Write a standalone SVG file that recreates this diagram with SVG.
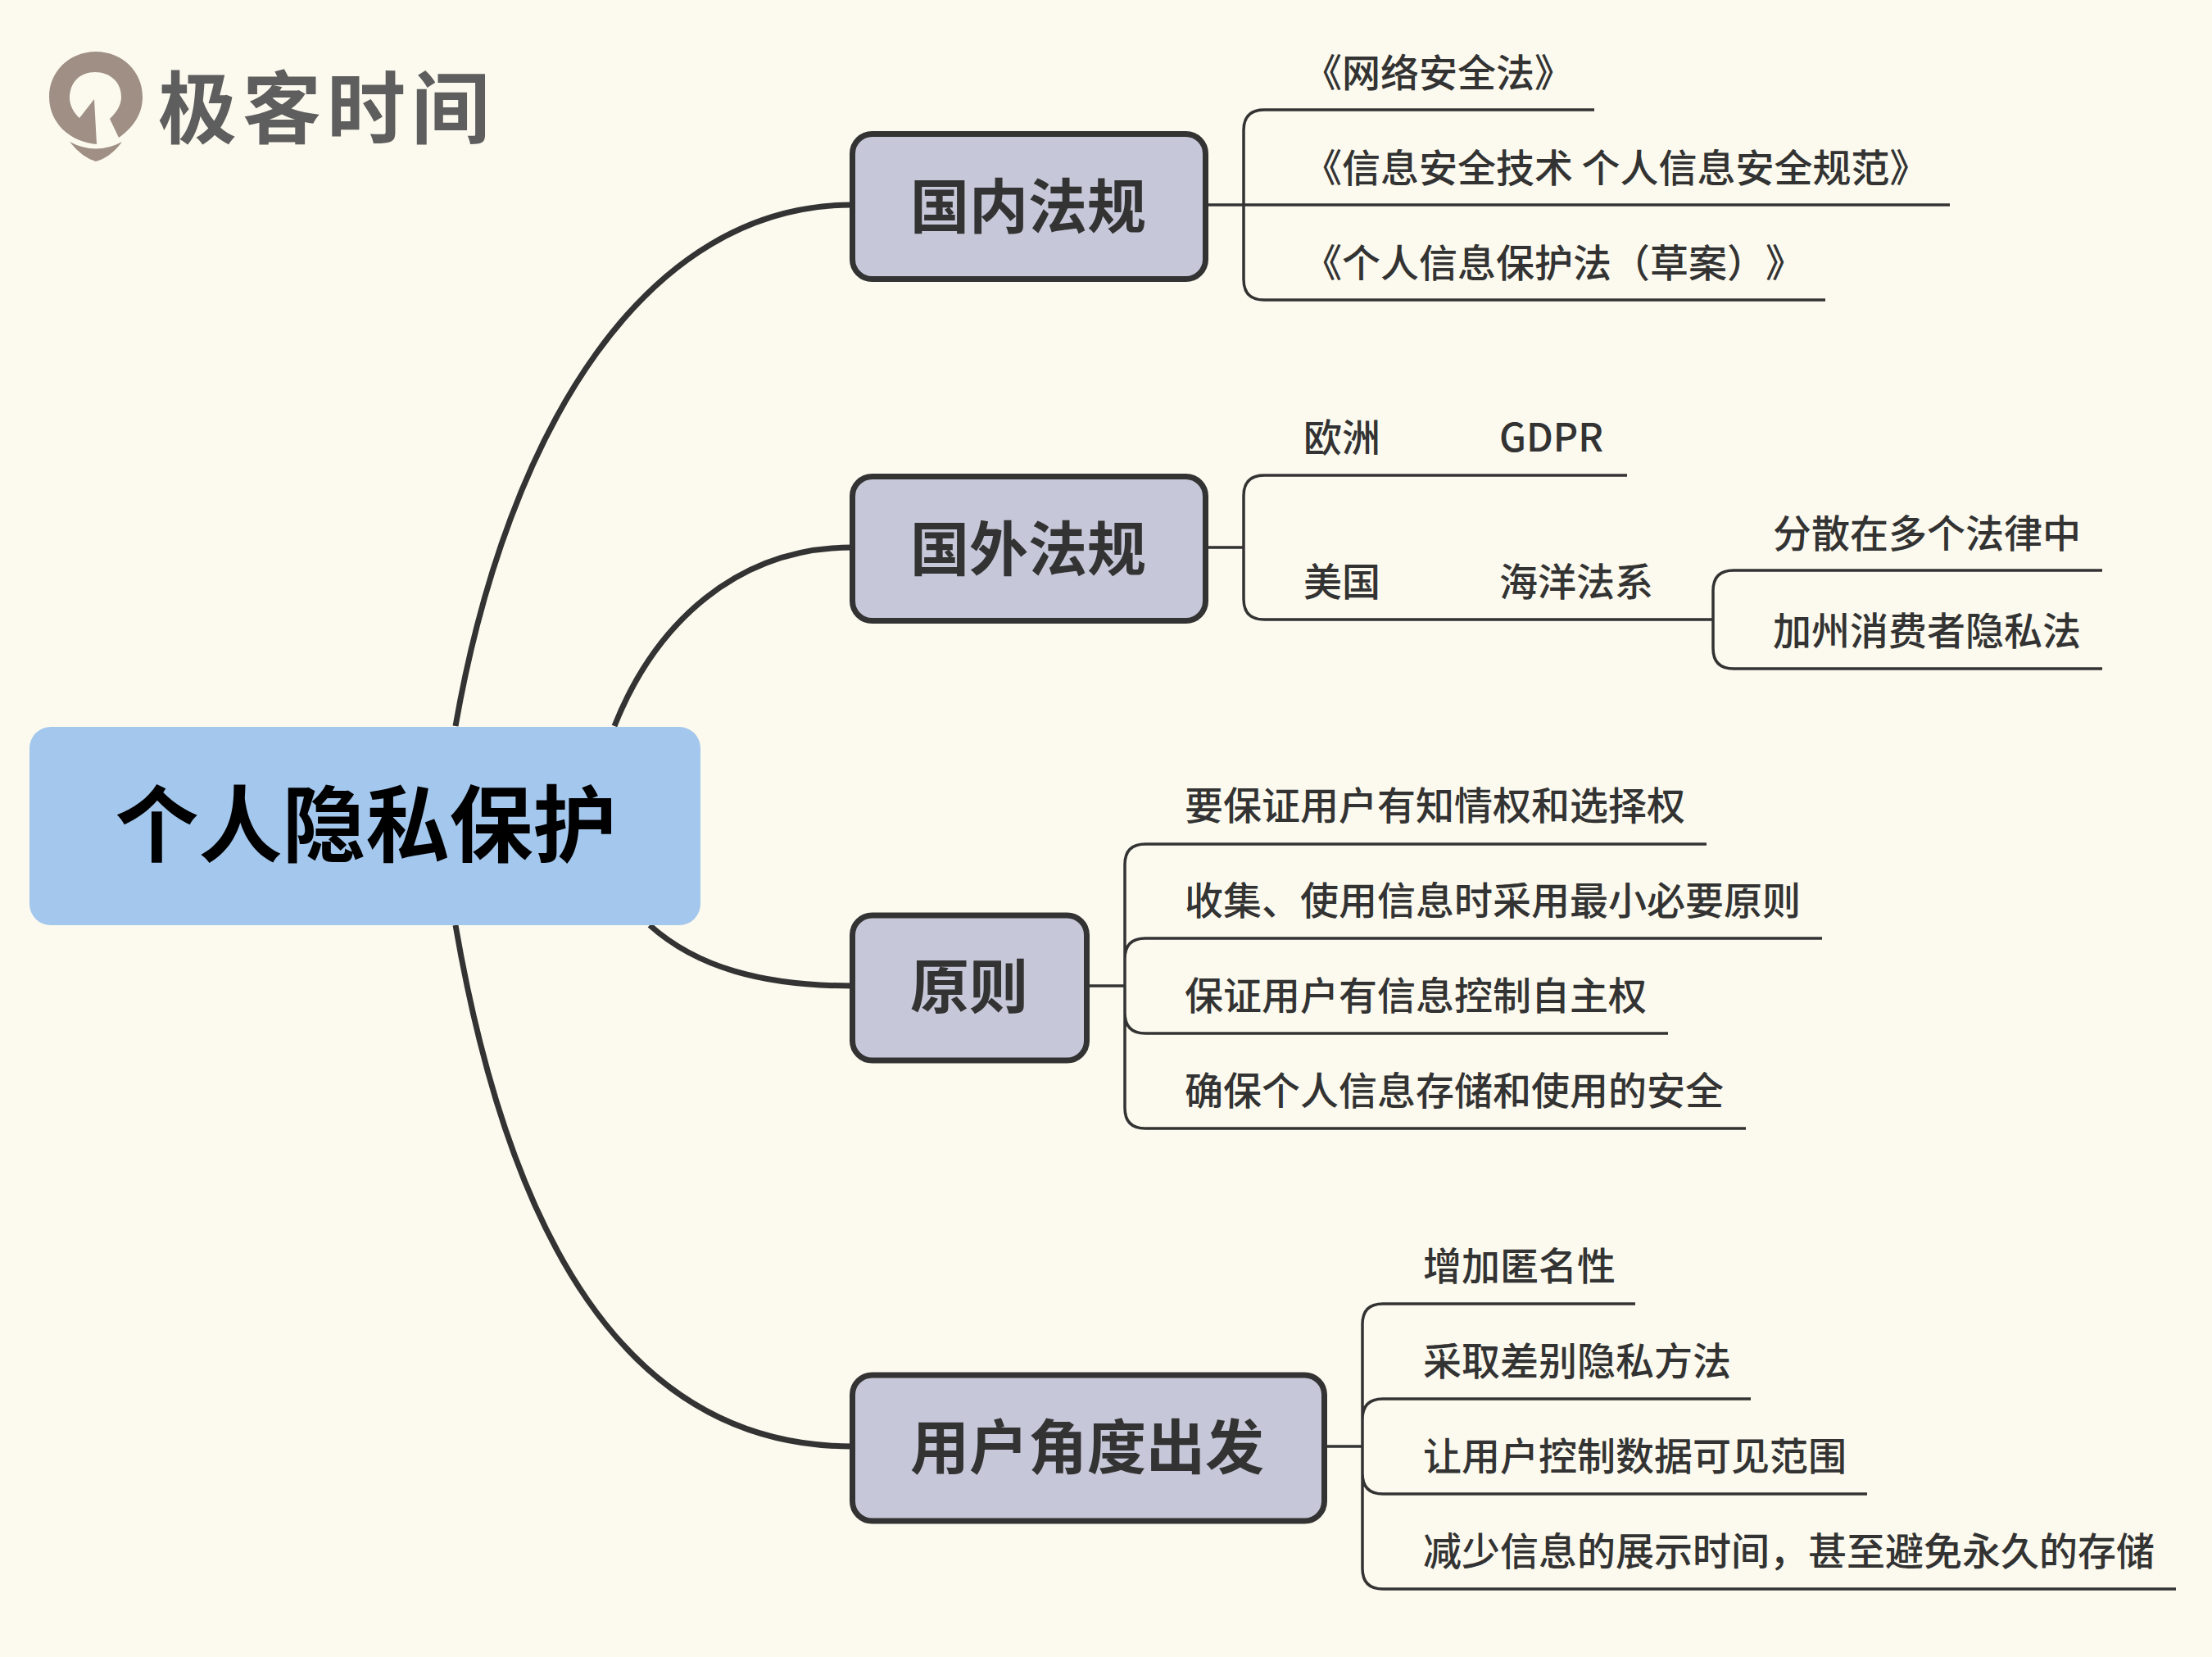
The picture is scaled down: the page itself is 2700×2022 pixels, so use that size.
<svg xmlns="http://www.w3.org/2000/svg" width="2700" height="2022" viewBox="0 0 2700 2022">
<style>
text{font-family:"Noto Sans CJK SC","Noto Sans",sans-serif;text-spacing-trim:space-all}
.t{font-size:47px;fill:#333;font-weight:500}
.n{font-size:72px;fill:#333;font-weight:700;text-anchor:middle}
.r{font-size:102px;fill:#000;font-weight:700;text-anchor:middle}
.nb{fill:#c6c7d8;stroke:#333;stroke-width:7}
.main{fill:none;stroke:#333;stroke-width:7}
.sub{fill:none;stroke:#333;stroke-width:3.500}
</style>
<rect width="2700" height="2022" fill="#fcfaee"/>
<g id="logo">
<path fill="#a08f84" d="M117 63C150 63 174 88 174 118C174 140 162 156 145 168L134 145C143 136 148 128 148 118C148 100 134 88 116 88C98 88 85 100 85 120C85 128 90 138 97 144L115 121L118 176C85 173 60 150 60 118C60 88 84 63 117 63Z"/>
<path fill="#a08f84" d="M85 173Q117 190 149 173Q135 192 117 197Q100 192 85 173Z"/>
<text x="193" y="167" font-size="96" letter-spacing="7" font-weight="700" fill="#5e5e5e">极客时间</text>
</g>
<g id="connectors">
<path class="main" d="M556 886C620 520 790 250 1040 250"/>
<path class="main" d="M750 886C800 760 900 668 1040 668"/>
<path class="main" d="M793 1129C850 1180 930 1203 1040 1203"/>
<path class="main" d="M556 1129C620 1500 760 1765 1040 1765"/>
<g class="sub-lines">
<path class="sub" d="M1474 250H2380M1518 250V159Q1518 134 1543 134H1946M1518 250V341Q1518 366 1543 366H2228"/>
<path class="sub" d="M1474 668H1518M1518 668V605Q1518 580 1543 580H1986M1518 668V731Q1518 756 1543 756H2091M2091 756V721Q2091 696 2116 696H2566M2091 756V791Q2091 816 2116 816H2566"/>
<path class="sub" d="M1327 1203H1373M1373 1203V1055Q1373 1030 1398 1030H2083M1373 1203V1170Q1373 1145 1398 1145H2224M1373 1203V1236Q1373 1261 1398 1261H2036M1373 1203V1352Q1373 1377 1398 1377H2131"/>
<path class="sub" d="M1618 1765H1663M1663 1765V1616Q1663 1591 1688 1591H1996M1663 1765V1732Q1663 1707 1688 1707H2137M1663 1765V1798Q1663 1823 1688 1823H2279M1663 1765V1914Q1663 1939 1688 1939H2656"/>
</g>
</g>
<g id="root"><rect x="36" y="887" width="819" height="242" rx="26" fill="#a3c7ed"/><text class="r" x="446.500" y="1044">个人隐私保护</text></g>
<g id="n1"><rect class="nb" x="1040.500" y="163.500" width="431" height="177" rx="24"/><text class="n" x="1255" y="278">国内法规</text></g>
<g id="n2"><rect class="nb" x="1040.500" y="581.500" width="431" height="176" rx="24"/><text class="n" x="1255" y="696">国外法规</text></g>
<g id="n3"><rect class="nb" x="1040.500" y="1117" width="286" height="177" rx="24"/><text class="n" x="1183" y="1230">原则</text></g>
<g id="n4"><rect class="nb" x="1040.500" y="1678" width="576" height="178" rx="24"/><text class="n" x="1327" y="1792">用户角度出发</text></g>
<g id="l1a"><text class="t" x="1591" y="106">《网络安全法》</text></g>
<g id="l1b"><text class="t" x="1591" y="222">《信息安全技术 个人信息安全规范》</text></g>
<g id="l1c"><text class="t" x="1591" y="338">《个人信息保护法（草案）》</text></g>
<g id="l2a"><text class="t" x="1591" y="551">欧洲</text><text class="t" x="1830" y="551">GDPR</text></g>
<g id="l2b"><text class="t" x="1591" y="727">美国</text><text class="t" x="1830" y="727">海洋法系</text></g>
<g id="l2c"><text class="t" x="2164" y="668">分散在多个法律中</text></g>
<g id="l2d"><text class="t" x="2164" y="787">加州消费者隐私法</text></g>
<g id="l3a"><text class="t" x="1446" y="1000">要保证用户有知情权和选择权</text></g>
<g id="l3b"><text class="t" x="1446" y="1116">收集、使用信息时采用最小必要原则</text></g>
<g id="l3c"><text class="t" x="1446" y="1232">保证用户有信息控制自主权</text></g>
<g id="l3d"><text class="t" x="1446" y="1348">确保个人信息存储和使用的安全</text></g>
<g id="l4a"><text class="t" x="1737" y="1562">增加匿名性</text></g>
<g id="l4b"><text class="t" x="1737" y="1678">采取差别隐私方法</text></g>
<g id="l4c"><text class="t" x="1737" y="1794">让用户控制数据可见范围</text></g>
<g id="l4d"><text class="t" x="1737" y="1910">减少信息的展示时间，甚至避免永久的存储</text></g>
</svg>
